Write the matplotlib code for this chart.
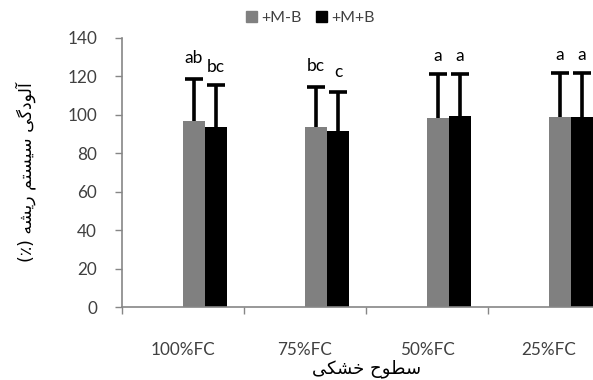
import numpy as np
import matplotlib
matplotlib.use('Agg')
import matplotlib.pyplot as plt
from matplotlib.patches import Patch

plt.rcParams['font.family'] = ['Lato', 'DejaVu Sans']

categories = ['100%FC', '75%FC', '50%FC', '25%FC']
series_names = ['+M-B', '+M+B']
mb_minus = [96.8, 93.7, 98.5, 99.0]
mb_minus_err = [21.6, 20.9, 22.5, 22.6]
mb_plus = [93.7, 91.4, 99.2, 99.0]
mb_plus_err = [21.8, 20.6, 21.8, 22.6]
letters_minus = ['ab', 'bc', 'a', 'a']
letters_plus = ['bc', 'c', 'a', 'a']
letters_minus_y = [129.5, 125.6, 130.5, 131.0]
letters_plus_y = [124.8, 122.3, 130.5, 131.0]
ylabel = 'آلودگی سیستم ریشه (٪)'
xlabel = 'سطوح خشکی'


# tiny persian shaper: (isolated, final, initial, medial)
FORMS = {
    'س': ('\uFEB1', '\uFEB2', '\uFEB3', '\uFEB4'),
    'ط': ('\uFEC1', '\uFEC2', '\uFEC3', '\uFEC4'),
    'ح': ('\uFEA1', '\uFEA2', '\uFEA3', '\uFEA4'),
    'خ': ('\uFEA5', '\uFEA6', '\uFEA7', '\uFEA8'),
    'ش': ('\uFEB5', '\uFEB6', '\uFEB7', '\uFEB8'),
    'ک': ('\uFB8E', '\uFB8F', '\uFB90', '\uFB91'),
    'گ': ('\uFB92', '\uFB93', '\uFB94', '\uFB95'),
    'ی': ('\uFBFC', '\uFBFD', '\uFBFE', '\uFBFF'),
    'ل': ('\uFEDD', '\uFEDE', '\uFEDF', '\uFEE0'),
    'ت': ('\uFE95', '\uFE96', '\uFE97', '\uFE98'),
    'م': ('\uFEE1', '\uFEE2', '\uFEE3', '\uFEE4'),
    'ه': ('\uFEE9', '\uFEEA', '\uFEEB', '\uFEEC'),
    'آ': ('\uFE81', '\uFE82', None, None),
    'و': ('\uFEED', '\uFEEE', None, None),
    'د': ('\uFEA9', '\uFEAA', None, None),
    'ر': ('\uFEAD', '\uFEAE', None, None),
}


def shape(s):
    out = []
    for i, c in enumerate(s):
        if c not in FORMS:
            out.append({'(': ')', ')': '('}.get(c, c))
            continue
        prev = s[i - 1] if i > 0 else ''
        nxt = s[i + 1] if i + 1 < len(s) else ''
        join_prev = prev in FORMS and FORMS[prev][2] is not None
        join_next = FORMS[c][2] is not None and nxt in FORMS
        if join_prev and join_next:
            out.append(FORMS[c][3])
        elif join_prev:
            out.append(FORMS[c][1])
        elif join_next:
            out.append(FORMS[c][2])
        else:
            out.append(FORMS[c][0])
    return ''.join(out[::-1])


fig = plt.figure(figsize=(5.93, 3.80), dpi=100)
ax = fig.add_axes([122 / 593, 1 - 307.3 / 380, 488 / 593, 269.5 / 380])

x = np.arange(len(categories))
w = 0.18
axis_col = '#868686'
err_kw = dict(ecolor='black', elinewidth=2.6, capsize=6.5, capthick=2.6)
b1 = ax.bar(x + 0.5, mb_minus, w, align='edge', color='#808080',
            yerr=[np.zeros(4), mb_minus_err], error_kw=err_kw)
b2 = ax.bar(x + 0.5 + w, mb_plus, w, align='edge', color='black',
            yerr=[np.zeros(4), mb_plus_err], error_kw=err_kw)
# only the upper cap, like excel's "plus" error bars
for b in (b1, b2):
    b.errorbar.lines[1][0].set_visible(False)

for i in range(len(categories)):
    ax.text(i + 0.5 + w / 2, letters_minus_y[i], letters_minus[i],
            ha='center', va='center', fontsize=12.5)
    ax.text(i + 0.5 + 1.5 * w, letters_plus_y[i], letters_plus[i],
            ha='center', va='center', fontsize=12.5)

ax.set_xlim(0, 4)
ax.set_ylim(0, 140)
ax.set_yticks(np.arange(0, 141, 20))
ax.set_xticks(np.arange(0, 5))
ax.set_xticklabels([])
ax.set_xticks(x + 0.5, minor=True)
ax.set_xticklabels(categories, minor=True)
ax.tick_params(axis='x', which='minor', length=0, pad=25, labelsize=12.3,
               labelcolor='#404040')
ax.tick_params(axis='x', which='major', length=5, color=axis_col, width=1)
ax.tick_params(axis='y', length=5, color=axis_col, width=1, pad=13,
               labelsize=12.3, labelcolor='#404040')
for s in ['top', 'right']:
    ax.spines[s].set_visible(False)
for s in ['left', 'bottom']:
    ax.spines[s].set_color(axis_col)
    ax.spines[s].set_linewidth(1.2)

handles = [Patch(color='#808080'), Patch(color='black')]
fig.legend(handles, series_names, loc='center', bbox_to_anchor=(310 / 593, 1 - 18 / 380),
           ncol=2, frameon=False, fontsize=11.5, handlelength=0.7, handleheight=0.7,
           handletextpad=0.25, columnspacing=0.9, labelcolor='#404040')

fig.text(26 / 593, 1 - 172 / 380, shape(ylabel), rotation=90, ha='center',
         va='center', fontsize=12.5, family='DejaVu Sans')
fig.text(367 / 593, 1 - 369 / 380, shape(xlabel), ha='center', va='center',
         fontsize=13, family='DejaVu Sans')

fig.savefig('out.png', dpi=100)
